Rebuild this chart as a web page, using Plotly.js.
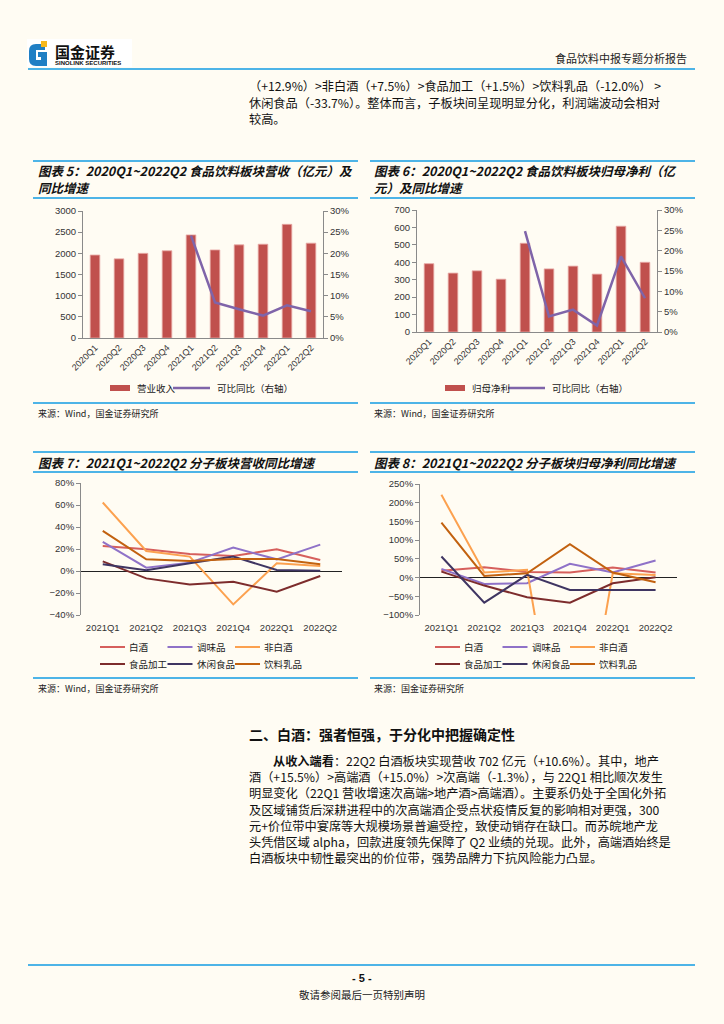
<!DOCTYPE html>
<html>
<head>
<meta charset="utf-8">
<script src="https://cdn.plot.ly/plotly-3.0.1.min.js"></script>
<style>
html,body{margin:0;padding:0;background:#fffcf3;}
#page{width:724px;height:1024px;}
</style>
</head>
<body>
<div id="page"></div>
<script>
// ---------- DATA ----------
const quarters10 = ['2020Q1','2020Q2','2020Q3','2020Q4','2021Q1','2021Q2','2021Q3','2021Q4','2022Q1','2022Q2'];
const revenue = [1960,1870,2000,2060,2435,2080,2200,2215,2685,2240];
const revenueYoY = [null,null,null,null,24.2,8.4,6.8,5.3,7.7,6.3];
const netProfit = [392,338,351,303,509,362,378,332,607,400];
const netProfitYoY = [null,null,null,null,24.8,3.8,5.5,1.6,18.6,8.3];

const quarters6 = ['2021Q1','2021Q2','2021Q3','2021Q4','2022Q1','2022Q2'];
const sectorNames = ['白酒','调味品','非白酒','食品加工','休闲食品','饮料乳品'];
const sectorColors = ['#d65f5c','#8f72c8','#fca14f','#7d2c2c','#3f3562','#c2610f'];
// 营收同比 (%)
const revBaijiu   = [22.8,19.8,15.5,13.7,19.8,10.0];
const revTiaowei  = [26.4,3.0,7.6,21.3,10.6,24.0];
const revFeibaijiu= [62.3,18.2,13.1,-30.4,7.0,4.6];
const revShipin   = [8.8,-6.7,-12.2,-9.7,-18.8,-4.6];
const revXiuxian  = [6.1,0.6,7.0,13.1,0.9,0.3];
const revYinliao  = [36.5,10.6,9.1,10.9,10.9,6.1];
// 归母净利同比 (%)
const npBaijiu    = [17.9,27.7,15.2,13.4,26.8,13.4];
const npTiaowei   = [23.2,-17.0,-15.2,36.6,13.4,45.5];
const npFeibaijiu = [221,13.4,20.5,-650,11.6,7.1];
const npShipin    = [16.0,-21.4,-52.7,-67.0,-15.2,1.0];
const npXiuxian   = [56.3,-67.0,7.1,-33.0,-33.0,-33.0];
const npYinliao   = [147,4.5,11.6,89.3,13.4,-12.5];

const revSeries = [revBaijiu,revTiaowei,revFeibaijiu,revShipin,revXiuxian,revYinliao];
const npSeries  = [npBaijiu,npTiaowei,npFeibaijiu,npShipin,npXiuxian,npYinliao];

// ---------- HELPERS ----------
const W = 724, H = 1024;
const X = v => v / W;
const Y = v => 1 - v / H;
const CJK = "'Noto Sans CJK SC', 'Noto Sans', sans-serif";
const NUM = "'Liberation Sans', Arial, sans-serif";
const BLUE = '#4db4e7';
const BG = '#fffcf3';
const BAR = '#c0504d';
const PURPLE = '#7f64a9';

const annotations = [];
const shapes = [];
function txt(x, y, text, opt) {
  opt = opt || {};
  annotations.push({
    xref:'paper', yref:'paper', x:X(x), y:Y(y), text:text, showarrow:false, borderpad:0,
    xanchor: opt.xanchor || 'left', yanchor:'middle', align: opt.align || 'left',
    font:{family: opt.family || CJK, size: opt.size || 12, color: opt.color || '#111',
          weight: opt.weight || 'normal', style: opt.style || 'normal'}
  });
}
function hline(x0, x1, y, color, w) {
  shapes.push({type:'line', xref:'paper', yref:'paper', x0:X(x0), x1:X(x1), y0:Y(y), y1:Y(y),
    line:{color:color, width:w}});
}
function rect(x0, y0, x1, y1, color, lineColor) {
  shapes.push({type:'rect', xref:'paper', yref:'paper', x0:X(x0), x1:X(x1), y0:Y(y1), y1:Y(y0),
    fillcolor:color, line:{color: lineColor || color, width: lineColor ? 1 : 0}});
}

// ---------- PAGE HEADER ----------
rect(27, 39, 132, 67, '#ffffff');
shapes.push({type:'path', xref:'paper', yref:'paper',
  path: `M ${X(45)} ${Y(44)} L ${X(36)} ${Y(44)} Q ${X(29)} ${Y(44)} ${X(29)} ${Y(51)} L ${X(29)} ${Y(59)} Q ${X(29)} ${Y(66)} ${X(36)} ${Y(66)} L ${X(47)} ${Y(66)} L ${X(47)} ${Y(52)} L ${X(38)} ${Y(52)} L ${X(38)} ${Y(57)} L ${X(41)} ${Y(57)} L ${X(41)} ${Y(60)} L ${X(36)} ${Y(60)} L ${X(36)} ${Y(50)} L ${X(45)} ${Y(50)} Z`,
  fillcolor:'#1f7fc4', line:{width:0}});
rect(41, 41, 47, 47, '#f4b81f');
txt(54, 51, '国金证券', {size:15, weight:'bold', color:'#111'});
txt(54, 63, 'SINOLINK SECURITIES', {size:6, weight:'bold', family:NUM, color:'#111'});
txt(688, 58, '食品饮料中报专题分析报告', {size:11, xanchor:'right', color:'#222'});
hline(28, 695, 69, BLUE, 2.2);

// ---------- TOP PARAGRAPH ----------
const para1 = [
  '（+12.9%）>非白酒（+7.5%）>食品加工（+1.5%）>饮料乳品（-12.0%） >',
  '休闲食品（-33.7%）。整体而言，子板块间呈现明显分化，利润端波动会相对',
  '较高。'
];
para1.forEach((t,i) => txt(248, 86 + i*16.5, t, {size:12.2, color:'#111'}));

// ---------- CHART TITLES / FRAMES ----------
[[33,358],[370,695]].forEach(([a,b]) => { hline(a,b,161,BLUE,1.8); hline(a,b,198,BLUE,1.8); hline(a,b,403,BLUE,1.8); });
[[33,358],[370,695]].forEach(([a,b]) => { hline(a,b,452,BLUE,1.8); hline(a,b,472,BLUE,1.8); hline(a,b,678,BLUE,1.8); });

const tOpt = {size:12.5, weight:'bold', style:'italic', color:'#111'};
txt(37, 170, '图表 5：2020Q1~2022Q2 食品饮料板块营收（亿元）及', tOpt);
txt(37, 187, '同比增速', tOpt);
txt(373, 170, '图表 6：2020Q1~2022Q2 食品饮料板块归母净利（亿', tOpt);
txt(373, 187, '元）及同比增速', tOpt);
txt(37, 462, '图表 7：2021Q1~2022Q2 分子板块营收同比增速', tOpt);
txt(373, 462, '图表 8：2021Q1~2022Q2 分子板块归母净利同比增速', tOpt);

const sOpt = {size:9, color:'#222'};
txt(37, 413, '来源：Wind，国金证券研究所', sOpt);
txt(373, 413, '来源：Wind，国金证券研究所', sOpt);
txt(37, 688, '来源：Wind，国金证券研究所', sOpt);
txt(373, 688, '来源：国金证券研究所', sOpt);

// ---------- LEGENDS (charts 5, 6) ----------
const lOpt = {size:9.5, color:'#222'};
rect(110, 385, 130, 391, BAR);
txt(136, 388, '营业收入', lOpt);
hline(173, 210, 388, PURPLE, 2.5);
txt(216, 388, '可比同比（右轴）', lOpt);
rect(445, 385, 465, 391, BAR);
txt(471, 388, '归母净利', lOpt);
hline(508, 545, 388, PURPLE, 2.5);
txt(551, 388, '可比同比（右轴）', lOpt);

// ---------- LEGENDS (charts 7, 8) ----------
[100, 435].forEach(base => {
  sectorNames.forEach((n,i) => {
    const col = i % 3, row = Math.floor(i / 3);
    const x0 = base + col * 67.5, y0 = 647 + row * 17;
    hline(x0, x0 + 25, y0, sectorColors[i], 2);
    txt(x0 + 28, y0, n, lOpt);
  });
});

// ---------- SECTION TEXT ----------
txt(248, 734, '二、白酒：强者恒强，于分化中把握确定性', {size:14, weight:'bold', color:'#111'});
const para2 = [
  '<b>从收入端看</b>：22Q2 白酒板块实现营收 702 亿元（+10.6%）。其中，地产',
  '酒（+15.5%）>高端酒（+15.0%）>次高端（-1.3%），与 22Q1 相比顺次发生',
  '明显变化（22Q1 营收增速次高端>地产酒>高端酒）。主要系仍处于全国化外拓',
  '及区域铺货后深耕进程中的次高端酒企受点状疫情反复的影响相对更强，300',
  '元+价位带中宴席等大规模场景普遍受控，致使动销存在缺口。而苏皖地产龙',
  '头凭借区域 alpha，回款进度领先保障了 Q2 业绩的兑现。此外，高端酒始终是',
  '白酒板块中韧性最突出的价位带，强势品牌力下抗风险能力凸显。'
];
para2.forEach((t,i) => txt(i === 0 ? 272 : 248, 761 + i*16.2, t, {size:12.2, color:'#111'}));

// ---------- FOOTER ----------
hline(28, 695, 965, BLUE, 2);
txt(362, 978, '- 5 -', {size:11, weight:'bold', family:NUM, xanchor:'center', color:'#111'});
txt(362, 994, '敬请参阅最后一页特别声明', {size:10.5, xanchor:'center', color:'#222'});

// ---------- TRACES ----------
const traces = [];
traces.push({type:'bar', x:quarters10, y:revenue, xaxis:'x', yaxis:'y',
  marker:{color:BAR, line:{color:'#e9aaa6', width:0.8}}, showlegend:false, hoverinfo:'skip'});
traces.push({type:'scatter', mode:'lines', x:quarters10, y:revenueYoY, xaxis:'x', yaxis:'y2',
  line:{color:PURPLE, width:2.5}, showlegend:false, hoverinfo:'skip'});
traces.push({type:'bar', x:quarters10, y:netProfit, xaxis:'x2', yaxis:'y3',
  marker:{color:BAR, line:{color:'#e9aaa6', width:0.8}}, showlegend:false, hoverinfo:'skip'});
traces.push({type:'scatter', mode:'lines', x:quarters10, y:netProfitYoY, xaxis:'x2', yaxis:'y4',
  line:{color:PURPLE, width:2.5}, showlegend:false, hoverinfo:'skip'});
revSeries.forEach((s,i) => traces.push({type:'scatter', mode:'lines', x:quarters6, y:s, xaxis:'x3', yaxis:'y5',
  name:sectorNames[i], line:{color:sectorColors[i], width:2}, showlegend:false, hoverinfo:'skip'}));
npSeries.forEach((s,i) => traces.push({type:'scatter', mode:'lines', x:quarters6, y:s, xaxis:'x4', yaxis:'y6',
  name:sectorNames[i], line:{color:sectorColors[i], width:2}, showlegend:false, hoverinfo:'skip'}));

// ---------- AXES ----------
const tickFont = {family:NUM, size:9.5, color:'#333'};
const axLine = {showline:true, linecolor:'#8a8a8a', linewidth:1, ticks:'outside', ticklen:4, tickcolor:'#8a8a8a',
  showgrid:false, zeroline:false, tickfont:tickFont, fixedrange:true};
const catX = (dom, anchor) => ({domain:dom, anchor:anchor, type:'category', showgrid:false, zeroline:false,
  showline:true, linecolor:'#8a8a8a', ticks:'', tickangle:-45, tickfont:{family:NUM, size:9, color:'#333'},
  fixedrange:true});
const lineX = (dom, anchor) => ({domain:dom, anchor:anchor, type:'category', range:[-0.5, 5.5],
  showline:false, ticks:'', showgrid:false, zeroline:false, tickfont:tickFont, ticklabelstandoff:5, fixedrange:true});

const layout = {
  width:W, height:H, autosize:false,
  margin:{l:0, r:0, t:0, b:0, pad:0},
  paper_bgcolor:BG, plot_bgcolor:'rgba(0,0,0,0)',
  bargap:0.6, showlegend:false,
  xaxis: catX([X(83), X(323)], 'y'),
  yaxis: Object.assign({}, axLine, {domain:[Y(338), Y(211)], anchor:'x', range:[0,3000], dtick:500}),
  yaxis2: Object.assign({}, axLine, {overlaying:'y', side:'right', anchor:'x', range:[0,30], dtick:5, ticksuffix:'%'}),
  xaxis2: catX([X(417), X(657)], 'y3'),
  yaxis3: Object.assign({}, axLine, {domain:[Y(332), Y(210)], anchor:'x2', range:[0,700], dtick:100}),
  yaxis4: Object.assign({}, axLine, {overlaying:'y3', side:'right', anchor:'x2', range:[0,30], dtick:5, ticksuffix:'%'}),
  xaxis3: lineX([X(81), X(342)], 'y5'),
  yaxis5: Object.assign({}, axLine, {domain:[Y(615), Y(483)], anchor:'x3', range:[-40,80], dtick:20, ticksuffix:'%',
    zeroline:true, zerolinecolor:'#222', zerolinewidth:1}),
  xaxis4: lineX([X(420), X(677)], 'y6'),
  yaxis6: Object.assign({}, axLine, {domain:[Y(615), Y(484)], anchor:'x4', range:[-100,250], dtick:50, ticksuffix:'%',
    zeroline:true, zerolinecolor:'#222', zerolinewidth:1}),
  annotations: annotations,
  shapes: shapes
};

Plotly.newPlot('page', traces, layout, {staticPlot:true, displayModeBar:false});
</script>
</body>
</html>
